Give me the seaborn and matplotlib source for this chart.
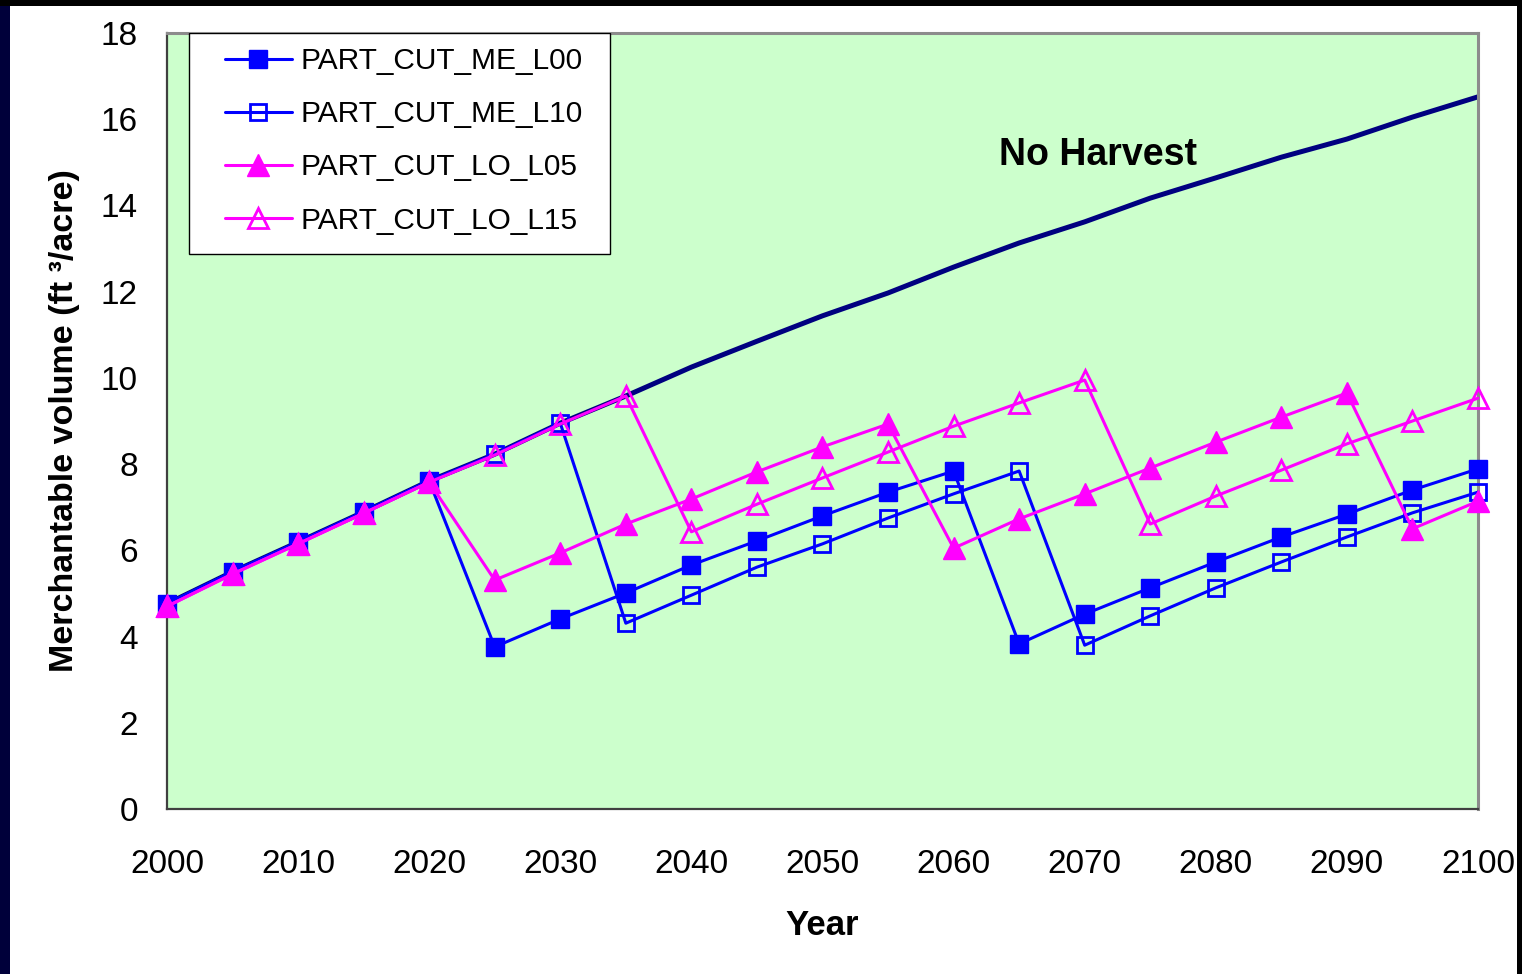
import matplotlib
matplotlib.use("Agg")
import matplotlib.pyplot as plt
from matplotlib.patches import Rectangle
import seaborn as sns

# ==========================================
# Data

years = [2000, 2005, 2010, 2015, 2020, 2025, 2030, 2035, 2040, 2045, 2050,
         2055, 2060, 2065, 2070, 2075, 2080, 2085, 2090, 2095, 2100]

no_harvest = [4.76, 5.50, 6.19, 6.89, 7.61, 8.23, 8.95, 9.58, 10.25, 10.85, 11.44,
              11.97, 12.57, 13.13, 13.62, 14.17, 14.64, 15.12, 15.54, 16.05, 16.52]

me_l00 = [4.76, 5.50, 6.19, 6.89, 7.61, 3.76, 4.41, 5.01, 5.66, 6.22, 6.80,
          7.35, 7.84, 3.83, 4.52, 5.13, 5.73, 6.31, 6.84, 7.40, 7.89]

me_l10 = [4.76, 5.50, 6.19, 6.89, 7.61, 8.23, 8.95, 4.31, 4.96, 5.61, 6.15,
          6.75, 7.31, 7.84, 3.80, 4.48, 5.13, 5.73, 6.31, 6.87, 7.35]

lo_l05 = [4.70, 5.45, 6.15, 6.86, 7.58, 5.31, 5.94, 6.61, 7.19, 7.82, 8.40,
          8.93, 6.05, 6.73, 7.31, 7.91, 8.51, 9.09, 9.65, 6.50, 7.14]

lo_l15 = [4.70, 5.45, 6.15, 6.86, 7.58, 8.21, 8.93, 9.58, 6.43, 7.07, 7.68,
          8.28, 8.88, 9.42, 9.95, 6.61, 7.26, 7.86, 8.47, 9.00, 9.53]

labels = ["PART_CUT_ME_L00", "PART_CUT_ME_L10", "PART_CUT_LO_L05", "PART_CUT_LO_L15"]

# ==========================================
# Style

sns.set_style("white")
plt.rcParams["font.family"] = ["Liberation Sans", "DejaVu Sans"]
plt.rcParams["text.color"] = "black"
plt.rcParams["axes.labelcolor"] = "black"

fig = plt.figure(figsize=(15.22, 9.74), dpi=100)
fig.patch.set_facecolor("white")
ax = fig.add_axes([0.1097, 0.1694, 0.8614, 0.7967])
ax.set_facecolor("#CCFFCC")

# slide frame around the chart
fig.patches.append(Rectangle((0, 0), 10 / 1522, 1, transform=fig.transFigure,
                             facecolor="#00003a", edgecolor="none", zorder=0))
fig.patches.append(Rectangle((0, 1 - 6 / 974), 1, 6 / 974, transform=fig.transFigure,
                             facecolor="black", edgecolor="none", zorder=0))
fig.patches.append(Rectangle((1 - 5 / 1522, 0), 5 / 1522, 1, transform=fig.transFigure,
                             facecolor="black", edgecolor="none", zorder=0))

# ==========================================
# Lines

sns.lineplot(x=years, y=no_harvest, ax=ax, color="#000080", linewidth=3.6)

styles = [
    (me_l00, "#0000FF", "s", "#0000FF", 13, 1.0),
    (me_l10, "#0000FF", "s", "none", 12, 2.0),
    (lo_l05, "#FF00FF", "^", "#FF00FF", 16, 1.0),
    (lo_l15, "#FF00FF", "^", "none", 15, 2.0),
]
handles = []
for (vals, col, mk, fc, ms, mew), lab in zip(styles, labels):
    sns.lineplot(x=years, y=vals, ax=ax, color=col, linewidth=2.2, marker=mk,
                 markersize=ms, markerfacecolor=fc, markeredgecolor=col,
                 markeredgewidth=mew, clip_on=False)
    line = ax.lines[-1]
    line.set_label(lab)
    line.set_zorder(3)
    handles.append(line)

ax.text(2063.5, 15.17, "No Harvest", fontsize=27, fontweight="bold",
        ha="left", va="center")

# ==========================================
# Axes

ax.set_xlim(2000, 2100)
ax.set_ylim(0, 18)
ax.set_xticks(range(2000, 2101, 10))
ax.set_yticks(range(0, 19, 2))
ax.tick_params(axis="both", direction="out", length=8, width=1.5,
               color="#404040", labelsize=24, labelcolor="black")
ax.tick_params(axis="y", pad=13)
ax.tick_params(axis="x", pad=21)

for side in ["left", "bottom"]:
    ax.spines[side].set_color("#404040")
    ax.spines[side].set_linewidth(1.6)
for side in ["top", "right"]:
    ax.spines[side].set_color("#8c8c8c")
    ax.spines[side].set_linewidth(2.2)

ax.set_xlabel("Year", fontsize=25, fontweight="bold", labelpad=21)
ax.set_ylabel("Merchantable volume (ft \u00b3/acre)", fontsize=24.5,
              fontweight="bold", labelpad=15)

# legend box
ax.add_patch(Rectangle((0.0168, 0.715), 0.321, 0.285, transform=ax.transAxes,
                       facecolor="white", edgecolor="black", linewidth=1.0,
                       zorder=5))
leg = ax.legend(handles=handles, labels=labels, loc="upper left",
                bbox_to_anchor=(0.035, 0.997), frameon=False, fontsize=21.5,
                handlelength=2.25, handletextpad=0.3, labelspacing=0.84,
                borderaxespad=0)
leg.set_zorder(6)

plt.savefig("out.png", dpi=100)
